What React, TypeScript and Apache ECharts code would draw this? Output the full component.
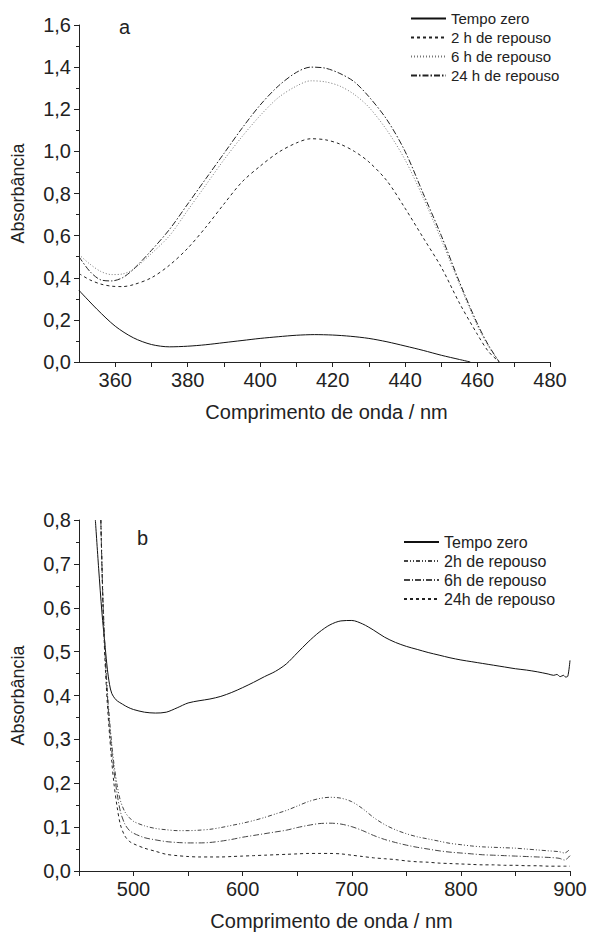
import React, { useEffect, useRef } from "react";
import * as echarts from "echarts";

// ---------- Chart a (top) ----------
const topWlZero = [350, 355, 360, 365, 370, 375, 380, 385, 390, 395, 400, 405, 410, 415, 420, 425, 430, 435, 440, 445, 450, 455, 458];
const topZero = [0.34, 0.25, 0.17, 0.115, 0.083, 0.072, 0.075, 0.082, 0.092, 0.102, 0.112, 0.12, 0.127, 0.13, 0.128, 0.122, 0.112, 0.096, 0.076, 0.055, 0.032, 0.012, 0.0];

const topWl = [350, 353, 356, 359, 362, 365, 370, 375, 380, 385, 390, 395, 400, 405, 410, 414, 418, 422, 426, 430, 435, 440, 445, 450, 455, 460, 463, 466];
const top2h = [0.42, 0.39, 0.37, 0.36, 0.358, 0.367, 0.4, 0.46, 0.54, 0.64, 0.75, 0.855, 0.93, 0.995, 1.04, 1.06, 1.055, 1.035, 1.0, 0.95, 0.86, 0.73, 0.59, 0.45, 0.28, 0.13, 0.05, 0.0];
const top6h = [0.51, 0.465, 0.43, 0.415, 0.418, 0.44, 0.515, 0.6, 0.72, 0.84, 0.96, 1.07, 1.17, 1.255, 1.31, 1.335, 1.33, 1.31, 1.27, 1.21, 1.1, 0.96, 0.78, 0.58, 0.37, 0.17, 0.075, 0.0];
const top24h = [0.5, 0.43, 0.39, 0.385, 0.4, 0.44, 0.53, 0.63, 0.75, 0.87, 0.99, 1.11, 1.22, 1.31, 1.375, 1.4, 1.395, 1.37, 1.33, 1.26, 1.15, 1.0, 0.8, 0.6, 0.38, 0.18, 0.08, 0.0];
const topNames = ["Tempo zero", "2 h de repouso", "6 h de repouso", "24 h de repouso"];

// ---------- Chart b (bottom) ----------
const botWlZero = [465, 468, 471, 474, 476, 478, 480, 484, 490, 495, 500, 510, 520, 530, 540, 550, 560, 570, 580, 590, 600, 610, 620, 630, 640, 650, 660, 670, 680, 690, 700, 710, 720, 730, 740, 750, 760, 770, 780, 790, 800, 810, 820, 830, 840, 850, 860, 870, 880, 885, 888, 891, 894, 896, 898, 900];
const botZero = [0.8, 0.69, 0.59, 0.51, 0.46, 0.425, 0.405, 0.39, 0.38, 0.373, 0.368, 0.362, 0.36, 0.362, 0.372, 0.383, 0.388, 0.392, 0.398, 0.407, 0.418, 0.43, 0.443, 0.455, 0.472, 0.497, 0.522, 0.544, 0.561, 0.57, 0.571, 0.563, 0.549, 0.533, 0.521, 0.512, 0.505, 0.498, 0.492, 0.486, 0.481, 0.477, 0.473, 0.469, 0.465, 0.461, 0.458, 0.454, 0.449, 0.446, 0.448, 0.443, 0.446, 0.442, 0.444, 0.48];

const botWl = [470, 472, 474, 476, 478, 480, 482, 485, 488, 492, 496, 500, 510, 520, 530, 540, 550, 560, 570, 580, 590, 600, 610, 620, 630, 640, 650, 660, 670, 680, 690, 700, 710, 720, 730, 740, 750, 760, 770, 780, 790, 800, 810, 820, 830, 840, 850, 860, 870, 880, 890, 895, 900];
const bot2h = [0.8, 0.62, 0.5, 0.41, 0.345, 0.29, 0.245, 0.195, 0.16, 0.135, 0.122, 0.113, 0.103, 0.097, 0.094, 0.092, 0.092, 0.093, 0.095, 0.099, 0.104, 0.109, 0.115, 0.122, 0.13, 0.138, 0.148, 0.158, 0.165, 0.168, 0.166, 0.158, 0.142, 0.122, 0.106, 0.094, 0.085, 0.078, 0.073, 0.068, 0.063, 0.06, 0.057, 0.055, 0.054, 0.053, 0.052, 0.05, 0.048, 0.046, 0.044, 0.041, 0.05];
const bot6h = [0.8, 0.61, 0.49, 0.4, 0.33, 0.275, 0.23, 0.175, 0.135, 0.107, 0.093, 0.086, 0.076, 0.071, 0.067, 0.065, 0.064, 0.064, 0.065, 0.068, 0.072, 0.077, 0.081, 0.085, 0.089, 0.093, 0.099, 0.104, 0.108, 0.109, 0.107, 0.101, 0.092, 0.081, 0.072, 0.065, 0.059, 0.054, 0.05, 0.046, 0.043, 0.041, 0.039, 0.037, 0.036, 0.035, 0.034, 0.033, 0.032, 0.031, 0.029, 0.025, 0.035];
const bot24h = [0.8, 0.6, 0.47, 0.38, 0.31, 0.25, 0.2, 0.145, 0.105, 0.08, 0.068, 0.062, 0.052, 0.045, 0.038, 0.035, 0.033, 0.032, 0.032, 0.032, 0.033, 0.034, 0.035, 0.036, 0.037, 0.038, 0.039, 0.04, 0.04, 0.04, 0.039, 0.036, 0.033, 0.03, 0.028, 0.026, 0.023, 0.021, 0.02, 0.018, 0.017, 0.016, 0.015, 0.014, 0.014, 0.013, 0.013, 0.012, 0.012, 0.011, 0.011, 0.011, 0.011];
const botNames = ["Tempo zero", "2h de repouso", "6h de repouso", "24h de repouso"];

const FONT = "'Liberation Sans', Arial, sans-serif";
const INK = "#222";

const pairs = (xs: number[], ys: number[]) => xs.map((x, i) => [x, ys[i]]);
const comma = (v: number) => v.toFixed(1).replace(".", ",");

function lineSeries(name: string, xi: number, xs: number[], ys: number[], color: string, type: any) {
  return {
    type: "line",
    name,
    xAxisIndex: xi,
    yAxisIndex: xi,
    data: pairs(xs, ys),
    showSymbol: false,
    symbol: "none",
    smooth: 0.3,
    lineStyle: { color, width: 1, type },
    itemStyle: { color },
    emphasis: { disabled: true },
  };
}

export default function App() {
  const ref = useRef<HTMLDivElement>(null);
  useEffect(() => {
    document.body.style.margin = "0";
    const chart = echarts.init(ref.current!, undefined, { renderer: "svg" });
    const axisLine = { show: true, lineStyle: { color: INK, width: 1 } };
    const tick = { show: true, inside: false, length: 5, lineStyle: { color: INK } };
    const minor = { show: true, splitNumber: 2, length: 3, lineStyle: { color: INK } };
    const label = { color: INK, fontSize: 20, fontFamily: FONT };
    const nameStyle = { color: INK, fontSize: 20, fontFamily: FONT };
    const yNameStyle = { color: INK, fontSize: 18, fontFamily: FONT };
    chart.setOption({
      animation: false,
      backgroundColor: "#fff",
      title: [
        { text: "a", left: 114, top: 12, textStyle: { fontSize: 20, fontWeight: "normal", color: INK, fontFamily: FONT } },
        { text: "b", left: 132, top: 523, textStyle: { fontSize: 20, fontWeight: "normal", color: INK, fontFamily: FONT } },
      ],
      grid: [
        { left: 79, top: 25, width: 471, height: 337 },
        { left: 79, top: 520, width: 491, height: 351 },
      ],
      xAxis: [
        {
          type: "value", gridIndex: 0, min: 350, max: 480, interval: 10,
          axisLine, axisTick: tick, splitLine: { show: false },
          axisLabel: { ...label, margin: 8, showMinLabel: false, formatter: (v: number) => (v % 20 === 0 ? String(v) : "") },
          name: "Comprimento de onda / nm", nameLocation: "middle", nameGap: 40,
          nameTextStyle: { ...nameStyle, padding: [0, 0, 0, 24] },
        },
        {
          type: "value", gridIndex: 1, min: 450, max: 900, interval: 50,
          axisLine, axisTick: tick, splitLine: { show: false },
          axisLabel: { ...label, margin: 8, formatter: (v: number) => (v % 100 === 0 ? String(v) : "") },
          name: "Comprimento de onda / nm", nameLocation: "middle", nameGap: 40,
          nameTextStyle: { ...nameStyle, padding: [0, 0, 0, 14] },
        },
      ],
      yAxis: [
        {
          type: "value", gridIndex: 0, min: 0, max: 1.6, interval: 0.2,
          axisLine, axisTick: tick, minorTick: minor, splitLine: { show: false }, minorSplitLine: { show: false },
          axisLabel: { ...label, margin: 8, formatter: comma },
          name: "Absorbância", nameLocation: "middle", nameGap: 52, nameTextStyle: yNameStyle,
        },
        {
          type: "value", gridIndex: 1, min: 0, max: 0.8, interval: 0.1,
          axisLine, axisTick: tick, minorTick: minor, splitLine: { show: false }, minorSplitLine: { show: false },
          axisLabel: { ...label, margin: 8, formatter: comma },
          name: "Absorbância", nameLocation: "middle", nameGap: 52, nameTextStyle: yNameStyle,
        },
      ],
      legend: [
        {
          data: topNames, orient: "vertical", left: 405, top: 6, itemWidth: 35, itemHeight: 14, itemGap: 4,
          itemStyle: { opacity: 0 },
          textStyle: { fontSize: 15, color: INK, fontFamily: FONT }, selectedMode: false,
        },
        {
          data: botNames, orient: "vertical", left: 398, top: 529, itemWidth: 35, itemHeight: 15, itemGap: 3,
          itemStyle: { opacity: 0 },
          textStyle: { fontSize: 16, color: INK, fontFamily: FONT }, selectedMode: false,
        },
      ],
      series: [
        lineSeries(topNames[0], 0, topWlZero, topZero, "#111", "solid"),
        lineSeries(topNames[1], 0, topWl, top2h, "#222", [3, 3]),
        lineSeries(topNames[2], 0, topWl, top6h, "#777", [1, 2]),
        lineSeries(topNames[3], 0, topWl, top24h, "#222", [6, 2, 1.5, 2]),
        lineSeries(botNames[0], 1, botWlZero, botZero, "#111", "solid"),
        lineSeries(botNames[1], 1, botWl, bot2h, "#444", [4, 2, 1, 2, 1, 2]),
        lineSeries(botNames[2], 1, botWl, bot6h, "#444", [6, 2, 1, 2]),
        lineSeries(botNames[3], 1, botWl, bot24h, "#222", [3, 3]),
      ],
    });
    return () => chart.dispose();
  }, []);
  return <div ref={ref} style={{ width: 590, height: 933 }} />;
}
